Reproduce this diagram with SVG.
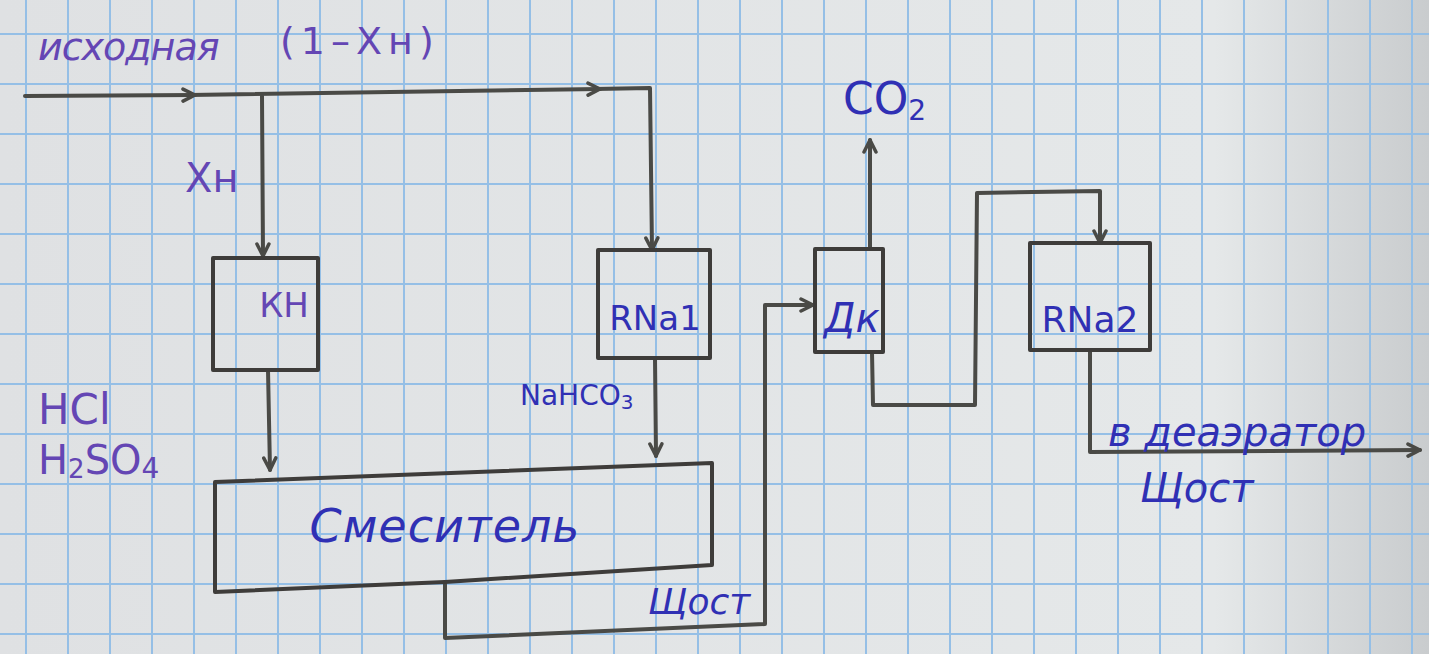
<svg xmlns="http://www.w3.org/2000/svg" width="1429" height="654" viewBox="0 0 1429 654">
<style>
.ln{fill:none;stroke:#4a4a46;stroke-width:4;stroke-linejoin:round;stroke-linecap:round}
.bx{fill:none;stroke:#3e3c3a;stroke-width:4;stroke-linejoin:round}
.tl{font-family:"DejaVu Sans","Liberation Sans",sans-serif;fill:#6446b4}
.tr{font-family:"DejaVu Sans","Liberation Sans",sans-serif;fill:#3030b4}
.it{font-style:italic}
</style>
<defs>
<pattern id="grid" x="25" y="33" width="42" height="50" patternUnits="userSpaceOnUse">
<rect x="0" y="0" width="2" height="50" fill="#95bfe6"/>
<rect x="0" y="0" width="42" height="2" fill="#95bfe6"/>
</pattern>
<linearGradient id="shade" x1="0" y1="0" x2="1" y2="0">
<stop offset="0" stop-color="#dfe1e3"/>
<stop offset="0.85" stop-color="#e5e8e9"/>
<stop offset="1" stop-color="#c9ccce"/>
</linearGradient>
<marker id="ar" markerWidth="16" markerHeight="16" refX="14" refY="8" orient="auto" markerUnits="userSpaceOnUse">
<path d="M2,2 L14,8 L2,14" fill="none" stroke="#4a4a46" stroke-width="3.5" stroke-linecap="round" stroke-linejoin="round"/>
</marker>
</defs>
<rect width="1429" height="654" fill="url(#shade)"/>
<rect width="1429" height="654" fill="url(#grid)"/>

<g id="connectors">
<path class="ln" d="M25,96 L195,95"  marker-end="url(#ar)"/>
<path class="ln" d="M190,95 L600,89" marker-end="url(#ar)"/>
<path class="ln" d="M595,89 L650,88 L652,250" marker-end="url(#ar)"/>
<path class="ln" d="M262,96 L263,256" marker-end="url(#ar)"/>
<path class="ln" d="M268,370 L270,470" marker-end="url(#ar)"/>
<path class="ln" d="M655,358 L656,456" marker-end="url(#ar)"/>
<path class="ln" d="M445,582 L445,638 L765,624 L765,305 L813,305" marker-end="url(#ar)"/>
<path class="ln" d="M870,248 L870,140" marker-end="url(#ar)"/>
<path class="ln" d="M872,352 L873,405 L975,405 L977,193 L1100,191 L1100,243" marker-end="url(#ar)"/>
<path class="ln" d="M1090,350 L1090,452 L1420,450" marker-end="url(#ar)"/>
</g>

<g id="label-source">
<text class="tl it" x="38" y="60" font-size="38" letter-spacing="-1">исходная</text>
<text class="tl" x="280" y="54" font-size="38" letter-spacing="6">(1–Хн)</text>
<text class="tl" x="185" y="192" font-size="40">Хн</text>
</g>

<g id="node-KH">
<rect class="bx" x="213" y="258" width="105" height="112"/>
<text class="tl" x="284" y="317" font-size="34" text-anchor="middle">КН</text>
</g>

<g id="node-RNa1">
<rect class="bx" x="598" y="250" width="112" height="108"/>
<text class="tr" x="655" y="330" font-size="34" text-anchor="middle">RNa1</text>
</g>

<g id="label-NaHCO3">
<text class="tr" x="520" y="405" font-size="28">NaHCO<tspan font-size="20" dy="4">3</tspan></text>
</g>

<g id="label-acids">
<text class="tl" x="38" y="424" font-size="42">HCl</text>
<text class="tl" x="38" y="474" font-size="40">H<tspan font-size="26" dy="4">2</tspan><tspan dy="-4">SO</tspan><tspan font-size="28" dy="4">4</tspan></text>
</g>

<g id="node-mixer">
<path class="bx" d="M215,482 L712,463 L712,565 L445,582 L215,592 Z"/>
<text class="tr it" x="445" y="542" font-size="46" text-anchor="middle" letter-spacing="1">Смеситель</text>
</g>

<g id="label-shch1">
<text class="tr it" x="648" y="614" font-size="36">Щост</text>
</g>

<g id="node-Dk">
<rect class="bx" x="815" y="249" width="68" height="103"/>
<text class="tr it" x="852" y="332" font-size="40" text-anchor="middle">Дк</text>
</g>

<g id="label-CO2">
<text class="tr" x="843" y="114" font-size="44">CO<tspan font-size="28" dy="6">2</tspan></text>
</g>

<g id="node-RNa2">
<rect class="bx" x="1030" y="243" width="120" height="107"/>
<text class="tr" x="1090" y="332" font-size="36" text-anchor="middle">RNa2</text>
</g>

<g id="label-out">
<text class="tr it" x="1108" y="446" font-size="40">в деаэратор</text>
<text class="tr it" x="1140" y="502" font-size="40">Щост</text>
</g>
</svg>
